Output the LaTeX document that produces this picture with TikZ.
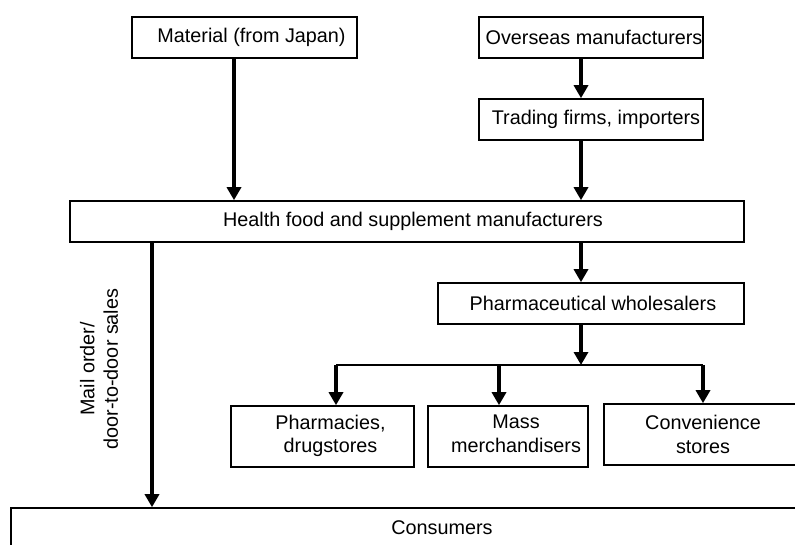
\documentclass[tikz,border=0pt]{standalone}
\usepackage{fontspec}
\setmainfont{Liberation Sans}
\usetikzlibrary{arrows.meta}
\tikzset{
  boxnode/.style={draw, line width=1.6pt, inner sep=0pt, align=center,
    font=\fontsize{19.8}{23.5}\selectfont},
  arr/.style={line width=3.5pt, -{Triangle[width=14pt,length=13pt]}},
  junction/.style={line width=2pt},
  lbl/.style={font=\fontsize{19.8}{23.5}\selectfont, align=center, rotate=90, inner sep=0pt}
}
\begin{document}
\begin{tikzpicture}[x=1pt,y=-1pt]
\useasboundingbox (0,0) rectangle (795,545);
\clip (0,0) rectangle (795,545);
\fill[white] (0,0) rectangle (795,545);
% boxes
\node[boxnode, minimum width=225pt, minimum height=41pt] (mat) at (244.5,37.5) {\hspace*{14pt}Material (from Japan)};
\node[boxnode, minimum width=224pt, minimum height=41pt] (ovs) at (591,37.5) {\hspace*{6pt}Overseas manufacturers};
\node[boxnode, minimum width=224pt, minimum height=41pt] (trd) at (591,119.5) {\hspace*{10pt}Trading firms, importers};
\node[boxnode, minimum width=674pt, minimum height=41pt] (hlth) at (407,221.5) {\hspace*{12pt}Health food and supplement manufacturers};
\node[boxnode, minimum width=306pt, minimum height=41pt] (phw) at (591,303.5) {\hspace*{4pt}Pharmaceutical wholesalers};
\node[boxnode, minimum width=183pt, minimum height=61pt] (phd) at (322.5,436.5) {\hspace*{16pt}\begin{tabular}{@{}c@{}}Pharmacies,\\drugstores\end{tabular}};
\node[boxnode, minimum width=160pt, minimum height=61pt] (mass) at (508,436.5) {\hspace*{16pt}\begin{tabular}{@{}c@{}}Mass\\merchandisers\end{tabular}\\[-4pt]};
\node[boxnode, minimum width=198pt, minimum height=61pt] (conv) at (703,434.5) {Convenience\\stores};
\node[boxnode, minimum width=862pt, minimum height=40pt] (cons) at (442,528) {Consumers};
% junction coordinates
\coordinate (j) at (581,365);
\coordinate (jl) at (336,365);
\coordinate (jm) at (499,365);
\coordinate (jr) at (703,365);
% connectors
\draw[arr] ([xshift=-10.5pt]mat.south) -- ([xshift=-10.5pt]mat.south |- hlth.north);
\draw[arr] ([xshift=-10pt]ovs.south) -- ([xshift=-10pt]trd.north);
\draw[arr] ([xshift=-10pt]trd.south) -- ([xshift=-10pt]trd.south |- hlth.north);
\draw[arr] ([xshift=-10pt]phw.north |- hlth.south) -- ([xshift=-10pt]phw.north);
\draw[arr] ([xshift=-10pt]phw.south) -- (j);
\draw[junction] (jl) -- (jr);
\draw[arr] (jl) -- (jl |- phd.north);
\draw[arr] (jm) -- (jm |- mass.north);
\draw[arr] (jr) -- (conv.north);
\coordinate (mo) at (152,242);
\draw[arr] (mo |- hlth.south) -- (mo |- cons.north);
\node[lbl] (molbl) at (99,369) {Mail order/\\door-to-door sales};
\end{tikzpicture}
\end{document}
